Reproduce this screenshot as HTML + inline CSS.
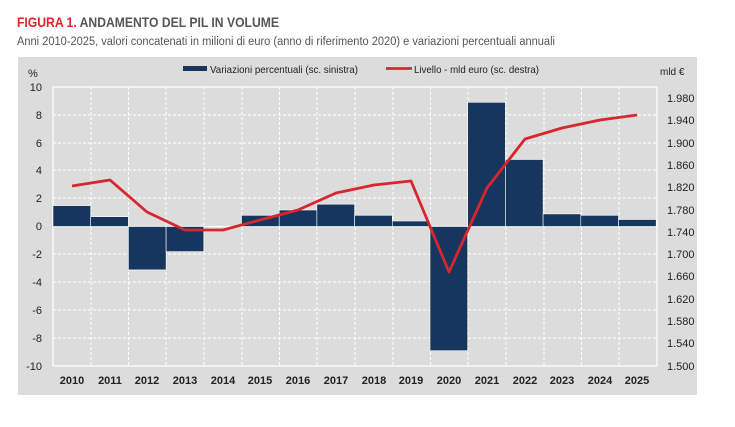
<!DOCTYPE html>
<html><head><meta charset="utf-8"><style>
body{margin:0;background:#fff;width:735px;height:422px;overflow:hidden;font-family:"Liberation Sans",Arial,sans-serif}
</style></head><body>
<svg width="735" height="422" xmlns="http://www.w3.org/2000/svg" font-family="Liberation Sans, Arial, sans-serif">
<text x="17" y="27" font-size="14" font-weight="bold" fill="#555" textLength="262" lengthAdjust="spacingAndGlyphs"><tspan fill="#e0252a">FIGURA 1.</tspan> ANDAMENTO DEL PIL IN VOLUME</text>
<text x="17" y="45" font-size="11.5" fill="#555" textLength="538" lengthAdjust="spacingAndGlyphs">Anni 2010-2025, valori concatenati in milioni di euro (anno di riferimento 2020) e variazioni percentuali annuali</text>
<rect x="18" y="57" width="679" height="338" fill="#dcdcdc"/>
<g stroke="#fff" stroke-width="1" stroke-dasharray="3,2">
<line x1="53" y1="115" x2="657" y2="115"/><line x1="53" y1="143" x2="657" y2="143"/><line x1="53" y1="170" x2="657" y2="170"/><line x1="53" y1="198" x2="657" y2="198"/><line x1="53" y1="254" x2="657" y2="254"/><line x1="53" y1="282" x2="657" y2="282"/><line x1="53" y1="310" x2="657" y2="310"/><line x1="53" y1="338" x2="657" y2="338"/>
<line x1="91" y1="87" x2="91" y2="366"/><line x1="128.5" y1="87" x2="128.5" y2="366"/><line x1="166" y1="87" x2="166" y2="366"/><line x1="204" y1="87" x2="204" y2="366"/><line x1="242" y1="87" x2="242" y2="366"/><line x1="279.5" y1="87" x2="279.5" y2="366"/><line x1="317" y1="87" x2="317" y2="366"/><line x1="355" y1="87" x2="355" y2="366"/><line x1="393" y1="87" x2="393" y2="366"/><line x1="430.5" y1="87" x2="430.5" y2="366"/><line x1="468" y1="87" x2="468" y2="366"/><line x1="506" y1="87" x2="506" y2="366"/><line x1="544" y1="87" x2="544" y2="366"/><line x1="581.5" y1="87" x2="581.5" y2="366"/><line x1="619" y1="87" x2="619" y2="366"/>
</g>
<g stroke="#fff" stroke-width="1.2" fill="none">
<line x1="53" y1="87" x2="657" y2="87"/><line x1="53" y1="87" x2="53" y2="366"/><line x1="657" y1="87" x2="657" y2="366"/><line x1="53" y1="366" x2="657" y2="366"/><line x1="53" y1="226.5" x2="657" y2="226.5"/>
</g>
<g fill="#17365d" stroke="#fff" stroke-width="0.6">
<rect x="53" y="205.6" width="37.7" height="20.9"/>
<rect x="90.7" y="216.7" width="37.7" height="9.8"/>
<rect x="128.4" y="226.5" width="37.7" height="43.4"/>
<rect x="166.1" y="226.5" width="37.7" height="25.1"/>
<rect x="241.5" y="215.3" width="37.7" height="11.2"/>
<rect x="279.2" y="210" width="37.7" height="16.5"/>
<rect x="316.9" y="204.2" width="37.7" height="22.3"/>
<rect x="354.6" y="215.3" width="37.7" height="11.2"/>
<rect x="392.3" y="221" width="37.7" height="5.5"/>
<rect x="430" y="226.5" width="37.7" height="124.2"/>
<rect x="467.7" y="102.3" width="37.7" height="124.2"/>
<rect x="505.4" y="159.5" width="37.7" height="67"/>
<rect x="543.1" y="213.9" width="37.7" height="12.6"/>
<rect x="580.8" y="215.3" width="37.7" height="11.2"/>
<rect x="618.5" y="219.5" width="37.7" height="7"/>
</g>
<polyline fill="none" stroke="#d7262e" stroke-width="2.8" stroke-linejoin="round" points="72,186 110,180 147,212 185,230 223,230 260,220 298,210 336,193 374,185 411,181 449,272 487,188 525,139 562,128 600,120 637,115"/>
<g font-size="11" fill="#222" text-anchor="end">
<text x="42" y="91">10</text><text x="42" y="119">8</text><text x="42" y="147">6</text><text x="42" y="174">4</text><text x="42" y="202">2</text><text x="42" y="230">0</text><text x="42" y="258">-2</text><text x="42" y="286">-4</text><text x="42" y="314">-6</text><text x="42" y="342">-8</text><text x="42" y="370">-10</text>
</g>
<text x="28" y="77" font-size="11" fill="#222">%</text>
<text x="660" y="75" font-size="10" fill="#222">mld €</text>
<g font-size="11" fill="#222">
<text x="667" y="102">1.980</text><text x="667" y="124">1.940</text><text x="667" y="147">1.900</text><text x="667" y="169">1.860</text><text x="667" y="191">1.820</text><text x="667" y="214">1.780</text><text x="667" y="236">1.740</text><text x="667" y="258">1.700</text><text x="667" y="280">1.660</text><text x="667" y="303">1.620</text><text x="667" y="325">1.580</text><text x="667" y="347">1.540</text><text x="667" y="370">1.500</text>
</g>
<g font-size="11" font-weight="bold" fill="#222" text-anchor="middle">
<text x="72" y="384">2010</text><text x="110" y="384">2011</text><text x="147" y="384">2012</text><text x="185" y="384">2013</text><text x="223" y="384">2014</text><text x="260" y="384">2015</text><text x="298" y="384">2016</text><text x="336" y="384">2017</text><text x="374" y="384">2018</text><text x="411" y="384">2019</text><text x="449" y="384">2020</text><text x="487" y="384">2021</text><text x="525" y="384">2022</text><text x="562" y="384">2023</text><text x="600" y="384">2024</text><text x="637" y="384">2025</text>
</g>
<rect x="183" y="66" width="24" height="5" fill="#17365d"/>
<text x="210" y="73" font-size="10.5" fill="#222" textLength="148" lengthAdjust="spacingAndGlyphs">Variazioni percentuali (sc. sinistra)</text>
<line x1="386" y1="68.5" x2="412" y2="68.5" stroke="#d7262e" stroke-width="2.8"/>
<text x="414" y="73" font-size="10.5" fill="#222" textLength="125" lengthAdjust="spacingAndGlyphs">Livello - mld euro (sc. destra)</text>
</svg>
</body></html>
